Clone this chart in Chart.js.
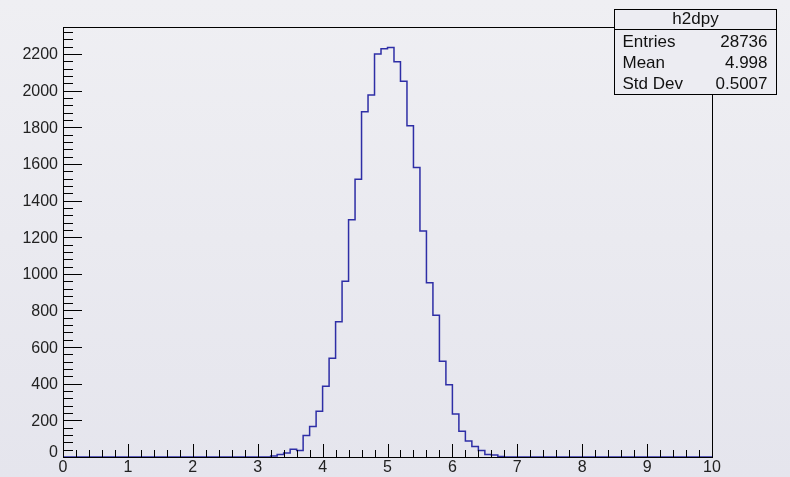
<!DOCTYPE html>
<html>
<head>
<meta charset="utf-8">
<title>h2dpy</title>
<script src="https://cdn.jsdelivr.net/npm/chart.js@4/dist/chart.umd.min.js"></script>
<style>
  html, body { margin: 0; padding: 0; }
  body {
    width: 790px; height: 477px; overflow: hidden;
    background: linear-gradient(#efeff3, #e5e5ed);
    font-family: "Liberation Sans", Arial, sans-serif;
  }
  #wrap { position: relative; width: 790px; height: 477px; }
</style>
</head>
<body>
<div id="wrap"><canvas id="hist" width="790" height="477"></canvas></div>
<script>
// Histogram h2dpy: 100 bins on [0, 10]
const histName = 'h2dpy';
const xMin = 0;
const xMax = 10;
const binCounts = [
  0, 0, 0, 0, 0, 0, 0, 0, 0, 0,
  0, 0, 0, 0, 0, 0, 0, 0, 0, 0,
  0, 0, 0, 0, 0, 0, 0, 0, 0, 0,
  0, 0, 5, 14, 22, 42, 35, 118, 166, 250,
  386, 539, 738, 959, 1296, 1516, 1885, 1976, 2200, 2229,
  2236, 2158, 2052, 1808, 1580, 1234, 951, 774, 523, 394,
  235, 140, 87, 58, 36, 13, 11, 3, 0, 0,
  0, 0, 0, 0, 0, 0, 0, 0, 0, 0,
  0, 0, 0, 0, 0, 0, 0, 0, 0, 0,
  0, 0, 0, 0, 0, 0, 0, 0, 0, 0
];
const statLabels = ['Entries', 'Mean', 'Std Dev'];
const statValues = ['28736', '4.998', '0.5007'];
const xTickLabels = ['0', '1', '2', '3', '4', '5', '6', '7', '8', '9', '10'];
const yTickLabels = ['0', '200', '400', '600', '800', '1000', '1200', '1400', '1600', '1800', '2000', '2200'];

const binWidth = (xMax - xMin) / binCounts.length;
const yMax = Math.max(...binCounts) * 1.05;

// step points at every low edge, plus the upper edge of the last bin
// (stepped 'before' draws each value across [low edge, next edge])
const points = binCounts.map((v, i) => ({ x: xMin + i * binWidth, y: v }));
points.push({ x: xMax, y: 0 });

const FONT = '"Liberation Sans", Arial, sans-serif';

// ROOT-style frame: inward ticks, labels and the stats box
const rootFrame = {
  id: 'rootFrame',
  afterDraw(chart) {
    const { ctx, chartArea: a, scales } = chart;
    const xs = scales.x, ys = scales.y;
    ctx.save();
    ctx.strokeStyle = '#000';
    ctx.lineWidth = 1;
    ctx.strokeRect(Math.round(a.left) + 0.5, Math.round(a.top) + 0.5,
      Math.round(a.right - a.left), Math.round(a.bottom - a.top));

    ctx.beginPath();
    // x ticks: major every 1, minor every 0.2
    for (let k = 0; k <= 50; k++) {
      const v = xMin + k * 0.2;
      const px = Math.round(xs.getPixelForValue(v)) + 0.5;
      const len = k % 5 === 0 ? 13 : 7;
      ctx.moveTo(px, a.bottom);
      ctx.lineTo(px, a.bottom - len);
    }
    // y ticks: major every 200, minor every 40
    for (let v = 0; v <= yMax; v += 40) {
      const py = Math.round(ys.getPixelForValue(v)) + 0.5;
      const len = v % 200 === 0 ? 19 : 10;
      ctx.moveTo(a.left, py);
      ctx.lineTo(a.left + len, py);
    }
    ctx.stroke();

    ctx.fillStyle = '#222';
    ctx.font = '16px ' + FONT;
    ctx.textAlign = 'center';
    ctx.textBaseline = 'top';
    xTickLabels.forEach(t => {
      ctx.fillText(t, xs.getPixelForValue(Number(t)), a.bottom + 3);
    });
    ctx.textAlign = 'right';
    ctx.textBaseline = 'middle';
    yTickLabels.forEach(t => {
      const v = Number(t);
      const py = ys.getPixelForValue(v) + (v === 0 ? -4 : 1);
      ctx.fillText(t, a.left - 5, py);
    });

    // stats box
    const bx = 614.5, by = 9.5, bw = 162, bh = 85;
    ctx.fillStyle = '#ececf2';
    ctx.fillRect(bx, by, bw, bh);
    ctx.strokeRect(bx, by, bw, bh);
    ctx.beginPath();
    ctx.moveTo(bx, by + 20);
    ctx.lineTo(bx + bw, by + 20);
    ctx.stroke();
    ctx.fillStyle = '#111';
    ctx.font = '17px ' + FONT;
    ctx.textAlign = 'center';
    ctx.fillText(histName, bx + bw / 2, by + 10);
    statLabels.forEach((s, i) => {
      const ty = by + 33 + i * 21;
      ctx.textAlign = 'left';
      ctx.fillText(s, bx + 8, ty);
      ctx.textAlign = 'right';
      ctx.fillText(statValues[i], bx + bw - 9, ty);
    });
    ctx.restore();
  }
};

new Chart(document.getElementById('hist'), {
  type: 'line',
  data: {
    datasets: [{
      label: histName,
      data: points,
      stepped: 'before',
      borderColor: '#2e2ea6',
      borderWidth: 1.5,
      pointRadius: 0,
      fill: false
    }]
  },
  options: {
    responsive: false,
    animation: false,
    layout: { padding: { left: 63, top: 27, right: 78, bottom: 20 } },
    scales: {
      x: { type: 'linear', min: xMin, max: xMax, display: false },
      y: { type: 'linear', min: 0, max: yMax, display: false }
    },
    plugins: {
      legend: { display: false },
      tooltip: { enabled: false }
    }
  },
  plugins: [rootFrame]
});
</script>
</body>
</html>
